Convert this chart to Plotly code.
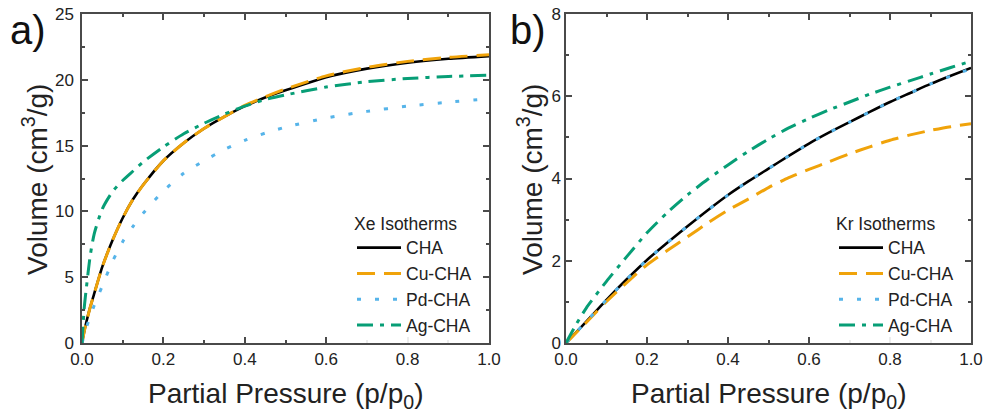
import plotly.graph_objects as go

# ---------------- data ----------------
xe_p = [0, 0.005, 0.01, 0.02, 0.03, 0.05, 0.075, 0.1, 0.125, 0.15, 0.2, 0.25,
        0.3, 0.35, 0.4, 0.45, 0.5, 0.6, 0.7, 0.8, 0.9, 1.0]
xe_cha = [0, 0.8, 1.5, 2.7, 3.75, 5.8, 7.8, 9.5, 10.9, 12.0, 13.85, 15.2,
          16.3, 17.2, 18.0, 18.65, 19.2, 20.2, 20.85, 21.3, 21.6, 21.8]
xe_cu = [0, 0.8, 1.5, 2.7, 3.75, 5.8, 7.8, 9.5, 10.9, 12.0, 13.85, 15.2,
         16.3, 17.2, 18.05, 18.7, 19.3, 20.3, 20.95, 21.4, 21.7, 21.9]
xe_pd = [0, 0.55, 1.1, 2.0, 2.85, 4.35, 6.2, 7.7, 8.85, 9.85, 11.55, 12.9,
         13.85, 14.7, 15.4, 15.95, 16.4, 17.1, 17.6, 18.0, 18.3, 18.55]
xe_ag = [0, 2.5, 4.0, 6.6, 8.3, 10.2, 11.5, 12.35, 13.05, 13.75, 14.9, 15.9,
         16.7, 17.4, 18.0, 18.5, 18.85, 19.45, 19.85, 20.1, 20.25, 20.35]

kr_p = [0, 0.025, 0.05, 0.1, 0.15, 0.2, 0.25, 0.3, 0.35, 0.4, 0.45, 0.5,
        0.55, 0.6, 0.65, 0.7, 0.75, 0.8, 0.85, 0.9, 0.95, 1.0]
kr_cha = [0, 0.26, 0.52, 1.05, 1.55, 2.02, 2.44, 2.84, 3.23, 3.6, 3.93, 4.24,
          4.55, 4.85, 5.12, 5.37, 5.62, 5.86, 6.08, 6.3, 6.5, 6.69]
kr_cu = [0, 0.25, 0.5, 1.01, 1.47, 1.9, 2.25, 2.58, 2.92, 3.23, 3.5, 3.78,
         4.02, 4.22, 4.41, 4.6, 4.77, 4.93, 5.06, 5.17, 5.26, 5.33]
kr_pd = [0, 0.26, 0.52, 1.05, 1.55, 2.02, 2.44, 2.84, 3.23, 3.6, 3.93, 4.24,
         4.55, 4.85, 5.12, 5.37, 5.62, 5.86, 6.08, 6.3, 6.49, 6.67]
kr_ag = [0, 0.45, 0.85, 1.5, 2.1, 2.68, 3.17, 3.6, 3.98, 4.33, 4.66, 4.96,
         5.23, 5.46, 5.67, 5.86, 6.05, 6.22, 6.38, 6.54, 6.7, 6.85]

series_names = ["CHA", "Cu-CHA", "Pd-CHA", "Ag-CHA"]
x_ticks = [0.0, 0.2, 0.4, 0.6, 0.8, 1.0]
xe_y_ticks = [0, 5, 10, 15, 20, 25]
kr_y_ticks = [0, 2, 4, 6, 8]

# ---------------- styling ----------------
FONT = "Liberation Sans, Arial, Helvetica, sans-serif"
AXC = "#4a4a4a"
colors = ["#000000", "#F0A30A", "#56B4E9", "#079E76"]
dashes = ["solid", "18px,9px", "4px,14px", "16px,7px,4px,7px"]
widths = [2.6, 3, 3, 3]
LEG_FS = 17.5

W, H = 985, 414
def px(v):
    return v / W
def py(v):
    return 1 - v / H

fig = go.Figure()

xe_sets = [xe_cha, xe_cu, xe_pd, xe_ag]
kr_sets = [kr_cha, kr_cu, kr_pd, kr_ag]
for name, ys, c, d, w in zip(series_names, xe_sets, colors, dashes, widths):
    fig.add_trace(go.Scatter(x=xe_p, y=ys, name=name, mode="lines",
                             line=dict(color=c, dash=d, width=w, shape="spline", smoothing=0.6),
                             xaxis="x", yaxis="y", legend="legend"))
for name, ys, c, d, w in zip(series_names, kr_sets, colors, dashes, widths):
    fig.add_trace(go.Scatter(x=kr_p, y=ys, name=name, mode="lines",
                             line=dict(color=c, dash=d, width=w, shape="spline", smoothing=0.6),
                             xaxis="x2", yaxis="y2", legend="legend2"))

def xax(domain, anchor):
    return dict(domain=domain, anchor=anchor, range=[0, 1], tickmode="array",
                tickvals=x_ticks, ticktext=[f"{t:.1f}" for t in x_ticks],
                ticks="inside", ticklen=6, tickwidth=1.5, tickcolor=AXC,
                showline=True, linecolor=AXC, linewidth=1.5, mirror="allticks",
                minor=dict(ticks="inside", ticklen=3, tickwidth=1.5, tickcolor=AXC,
                           tickvals=[0.1, 0.3, 0.5, 0.7, 0.9], showgrid=False),
                showgrid=False, zeroline=False, automargin=False,
                tickfont=dict(family=FONT, size=17, color="#222"))

def yax(domain, anchor, rng, ticks, minor_vals, standoff):
    return dict(domain=domain, anchor=anchor, range=rng, tickmode="array",
                tickvals=ticks, ticktext=[str(t) for t in ticks],
                ticks="inside", ticklen=6, tickwidth=1.5, tickcolor=AXC,
                showline=True, linecolor=AXC, linewidth=1.5, mirror="allticks",
                minor=dict(ticks="inside", ticklen=3, tickwidth=1.5, tickcolor=AXC,
                           tickvals=minor_vals, showgrid=False),
                showgrid=False, zeroline=False, automargin=False,
                ticklabelstandoff=standoff,
                tickfont=dict(family=FONT, size=17, color="#222"))

def legend_cfg(x, title):
    return dict(x=px(x), y=py(207), xanchor="left", yanchor="top",
                title=dict(text=title, font=dict(size=LEG_FS, family=FONT, color="#222")),
                font=dict(size=LEG_FS, family=FONT, color="#222"),
                bgcolor="rgba(255,255,255,0.9)", borderwidth=0,
                tracegroupgap=0, itemwidth=44)

ydom = [py(343), py(14)]
fig.update_layout(
    width=W, height=H,
    margin=dict(l=0, r=0, t=0, b=0),
    paper_bgcolor="white", plot_bgcolor="white",
    font=dict(family=FONT, color="#222"),
    xaxis=xax([px(82), px(489)], "y"),
    yaxis=yax(ydom, "x", [0, 25], xe_y_ticks, [2.5, 7.5, 12.5, 17.5, 22.5], 3),
    xaxis2=xax([px(566), px(971)], "y2"),
    yaxis2=yax(ydom, "x2", [0, 8], kr_y_ticks, [1, 3, 5, 7], 0),
    legend=legend_cfg(352, "Xe Isotherms"),
    legend2=legend_cfg(834, "Kr Isotherms"),
    showlegend=True,
)

ann = []
# panel labels
ann.append(dict(text="a)", x=px(8), y=py(6), xref="paper", yref="paper",
                xanchor="left", yanchor="top", showarrow=False,
                font=dict(size=40, family=FONT, color="#111")))
ann.append(dict(text="b)", x=px(508), y=py(6), xref="paper", yref="paper",
                xanchor="left", yanchor="top", showarrow=False,
                font=dict(size=40, family=FONT, color="#111")))
# axis titles
for cx in (285.5, 768.5):
    ann.append(dict(text="Partial Pressure (p/p<sub>0</sub>)", x=px(cx), y=py(395),
                    xref="paper", yref="paper", xanchor="center", yanchor="middle",
                    showarrow=False, font=dict(size=28, family=FONT, color="#222")))
for cx in (35, 530):
    ann.append(dict(text="Volume (cm<sup>3</sup>/g)", x=px(cx), y=py(180),
                    xref="paper", yref="paper", xanchor="center", yanchor="middle",
                    textangle=-90, showarrow=False,
                    font=dict(size=28, family=FONT, color="#222")))
fig.update_layout(annotations=ann)

fig.write_html("out.html", config={"displayModeBar": False},
               post_script="document.body.style.margin='0';document.body.style.overflow='hidden';")
